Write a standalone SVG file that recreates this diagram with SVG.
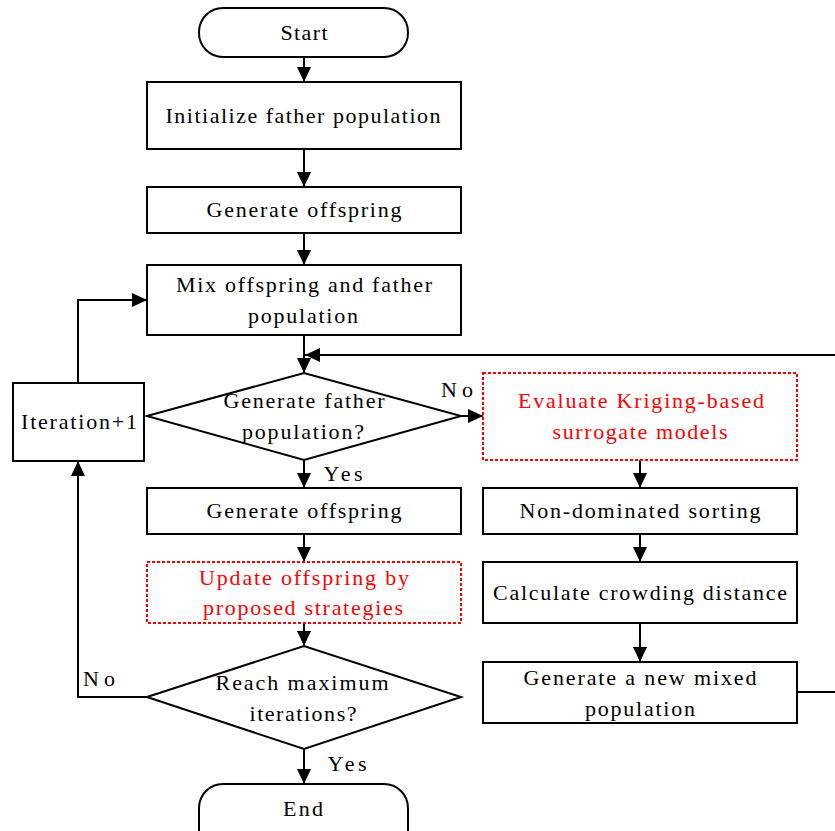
<svg xmlns="http://www.w3.org/2000/svg" width="835" height="831" viewBox="0 0 835 831">
<style>
.b{fill:#fff;stroke:#000;stroke-width:2}
.r{fill:#fff;stroke:#f00;stroke-width:2;stroke-dasharray:3 2}
.t{font-family:"Liberation Serif","Times New Roman",serif;font-size:22px;fill:#000;text-anchor:middle}
.tr{fill:#f00}
.c{fill:none;stroke:#000;stroke-width:2}
</style>
<defs>
<marker id="a" markerWidth="14" markerHeight="14" refX="15" refY="7" orient="auto" markerUnits="userSpaceOnUse">
<path d="M0,0 L15,7 L0,14 Z" fill="#000"/>
</marker>
</defs>
<g id="connectors">
<path class="c" d="M304,57 V82" marker-end="url(#a)"/>
<path class="c" d="M304,149 V187" marker-end="url(#a)"/>
<path class="c" d="M304,233 V265" marker-end="url(#a)"/>
<path class="c" d="M304,335 V373" marker-end="url(#a)"/>
<path class="c" d="M304,460 V488" marker-end="url(#a)"/>
<path class="c" d="M304,534 V562" marker-end="url(#a)"/>
<path class="c" d="M304,623 V646" marker-end="url(#a)"/>
<path class="c" d="M304,749 V784" marker-end="url(#a)"/>
<path class="c" d="M78,383 V300 H147" marker-end="url(#a)"/>
<path class="c" d="M147,697 H78 V461" marker-end="url(#a)"/>
<path class="c" d="M461,416 H483" marker-end="url(#a)"/>
<path class="c" d="M640,460 V488" marker-end="url(#a)"/>
<path class="c" d="M640,534 V562" marker-end="url(#a)"/>
<path class="c" d="M640,623 V662" marker-end="url(#a)"/>
<path class="c" d="M797,692 H835"/>
<path class="c" d="M835,355 H305" marker-end="url(#a)"/>
<text class="t" x="457" y="397" textLength="32" lengthAdjust="spacing">No</text>
<text class="t" x="343" y="481" textLength="39" lengthAdjust="spacing">Yes</text>
<text class="t" x="347" y="771" textLength="39" lengthAdjust="spacing">Yes</text>
<text class="t" x="99" y="686" textLength="32" lengthAdjust="spacing">No</text>
</g>
<g id="start">
<rect class="b" x="199" y="8" width="209" height="49" rx="24"/>
<text class="t" x="304" y="40" textLength="47" lengthAdjust="spacing">Start</text>
</g>
<g id="init">
<rect class="b" x="147" y="82" width="314" height="67"/>
<text class="t" x="303" y="123" textLength="275" lengthAdjust="spacing">Initialize father population</text>
</g>
<g id="gen1">
<rect class="b" x="147" y="187" width="314" height="46"/>
<text class="t" x="304" y="217" textLength="195" lengthAdjust="spacing">Generate offspring</text>
</g>
<g id="mix">
<rect class="b" x="147" y="265" width="314" height="70"/>
<text class="t" x="304" y="292" textLength="256" lengthAdjust="spacing">Mix offspring and father</text>
<text class="t" x="303" y="323" textLength="110" lengthAdjust="spacing">population</text>
</g>
<g id="dec1">
<path class="b" d="M147,416 L304,373 L461,416 L304,460 Z"/>
<text class="t" x="304" y="408" textLength="161" lengthAdjust="spacing">Generate father</text>
<text class="t" x="303" y="439" textLength="122" lengthAdjust="spacing">population?</text>
</g>
<g id="iter">
<rect class="b" x="13" y="383" width="131" height="78"/>
<text class="t" x="79" y="429" textLength="116" lengthAdjust="spacing">Iteration+1</text>
</g>
<g id="gen2">
<rect class="b" x="147" y="488" width="314" height="46"/>
<text class="t" x="304" y="518" textLength="195" lengthAdjust="spacing">Generate offspring</text>
</g>
<g id="update">
<rect class="r" x="147" y="562" width="314" height="61"/>
<text class="t tr" x="304" y="585" textLength="210" lengthAdjust="spacing">Update offspring by</text>
<text class="t tr" x="303" y="615" textLength="200" lengthAdjust="spacing">proposed strategies</text>
</g>
<g id="dec2">
<path class="b" d="M147,697 L304,646 L461,697 L304,749 Z"/>
<text class="t" x="302" y="690" textLength="173" lengthAdjust="spacing">Reach maximum</text>
<text class="t" x="303" y="721" textLength="107" lengthAdjust="spacing">iterations?</text>
</g>
<g id="end">
<path class="b" d="M223,784 H384 A24,24 0 0 1 408,808 V831 M199,831 V808 A24,24 0 0 1 223,784"/>
<text class="t" x="303" y="816" textLength="40" lengthAdjust="spacing">End</text>
</g>
<g id="eval">
<rect class="r" x="483" y="373" width="314" height="87"/>
<text class="t tr" x="641" y="408" textLength="246" lengthAdjust="spacing">Evaluate Kriging-based</text>
<text class="t tr" x="640" y="439" textLength="175" lengthAdjust="spacing">surrogate models</text>
</g>
<g id="sort">
<rect class="b" x="483" y="488" width="314" height="46"/>
<text class="t" x="640" y="518" textLength="241" lengthAdjust="spacing">Non-dominated sorting</text>
</g>
<g id="crowd">
<rect class="b" x="483" y="562" width="314" height="61"/>
<text class="t" x="640" y="600" textLength="294" lengthAdjust="spacing">Calculate crowding distance</text>
</g>
<g id="newmix">
<rect class="b" x="483" y="662" width="314" height="61"/>
<text class="t" x="640" y="685" textLength="233" lengthAdjust="spacing">Generate a new mixed</text>
<text class="t" x="640" y="716" textLength="110" lengthAdjust="spacing">population</text>
</g>
</svg>
